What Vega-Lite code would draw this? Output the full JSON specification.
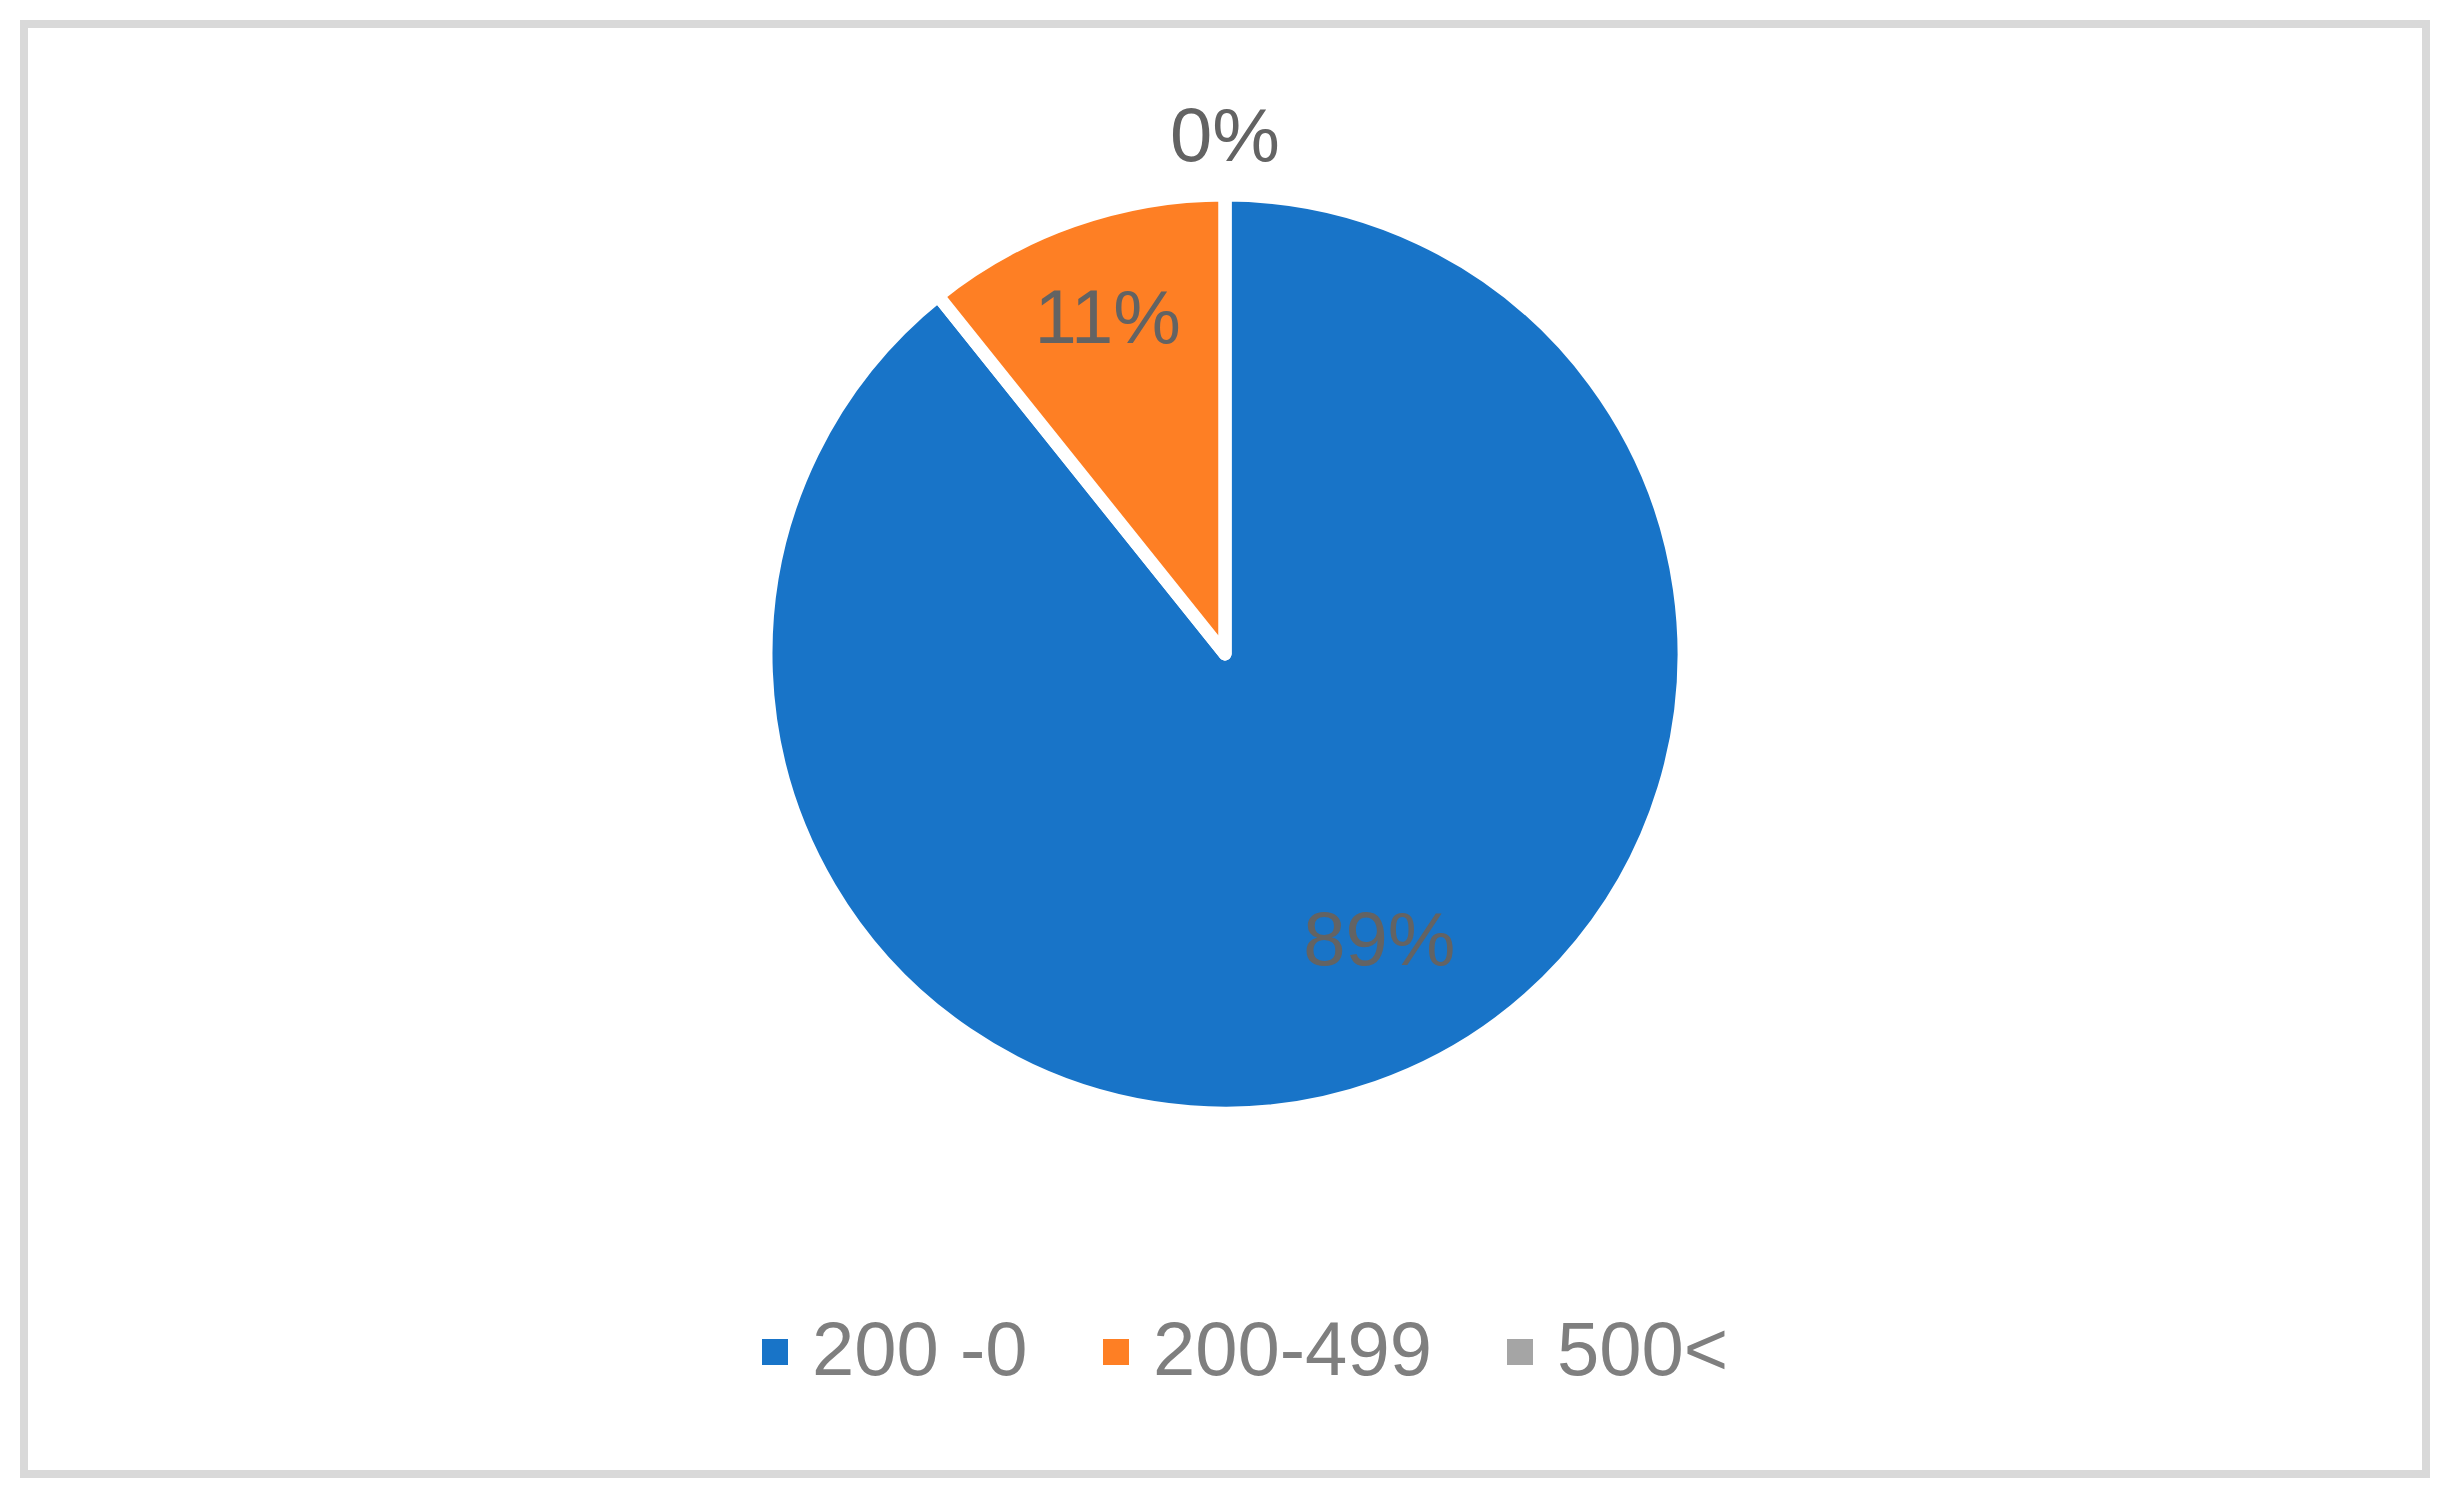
{
  "$schema": "https://vega.github.io/schema/vega-lite/v6.json",
  "autosize": {"type": "none"},
  "width": 2402,
  "height": 1450,
  "padding": {"left": 24, "top": 24, "right": 33, "bottom": 21},
  "background": "white",
  "view": {"stroke": "#d9d9d9", "strokeWidth": 8, "fill": null},
  "config": {
    "font": "Liberation Sans",
    "text": {"font": "Liberation Sans"},
    "legend": {"labelFont": "Liberation Sans"}
  },
  "data": {
    "values": [
      {"cat": "200 -0", "v": 89.25, "o": 1, "lbl": "89%"},
      {"cat": "200-499", "v": 10.75, "o": 2, "lbl": "11%"},
      {"cat": "500<", "v": 0, "o": 3, "lbl": "0%"}
    ]
  },
  "encoding": {
    "theta": {"field": "v", "type": "quantitative", "stack": true},
    "order": {"field": "o", "type": "ordinal"}
  },
  "layer": [
    {
      "mark": {
        "type": "arc",
        "outerRadius": 459,
        "stroke": "white",
        "strokeWidth": 13,
        "strokeJoin": "round",
        "y": {"expr": "height * 0.4345"}
      },
      "encoding": {
        "color": {
          "field": "cat",
          "type": "nominal",
          "scale": {
            "domain": ["200 -0", "200-499", "500<"],
            "range": ["#1874c8", "#fe7f24", "#a5a5a5"]
          },
          "legend": {
            "title": null,
            "orient": "none",
            "direction": "horizontal",
            "legendX": 713,
            "legendY": 1290,
            "padding": 0,
            "symbolType": "square",
            "symbolSize": 676,
            "symbolStrokeWidth": 0,
            "symbolOpacity": 1,
            "labelFont": "Liberation Sans",
            "labelFontSize": 76,
            "labelColor": "#7f7f7f",
            "labelOffset": -1,
            "labelLimit": 1000,
            "columnPadding": 50
          }
        }
      }
    },
    {
      "mark": {"type": "text", "font": "Liberation Sans", "radius": 354, "fontSize": 76, "color": "#636363", "y": {"expr": "height * 0.4345"}},
      "encoding": {
        "detail": {"field": "cat", "type": "nominal"},
        "text": {"condition": {"test": "datum.cat === '200-499'", "field": "lbl", "type": "nominal"}, "value": ""}
      }
    },
    {
      "mark": {"type": "text", "font": "Liberation Sans", "radius": 330, "dx": 45, "dy": -23, "fontSize": 76, "color": "#636363", "y": {"expr": "height * 0.4345"}},
      "encoding": {
        "detail": {"field": "cat", "type": "nominal"},
        "text": {"condition": {"test": "datum.cat === '200 -0'", "field": "lbl", "type": "nominal"}, "value": ""}
      }
    },
    {
      "mark": {"type": "text", "font": "Liberation Sans", "radius": 516, "fontSize": 76, "color": "#636363", "y": {"expr": "height * 0.4345"}},
      "encoding": {
        "detail": {"field": "cat", "type": "nominal"},
        "text": {"condition": {"test": "datum.cat === '500<'", "field": "lbl", "type": "nominal"}, "value": ""}
      }
    }
  ]
}
